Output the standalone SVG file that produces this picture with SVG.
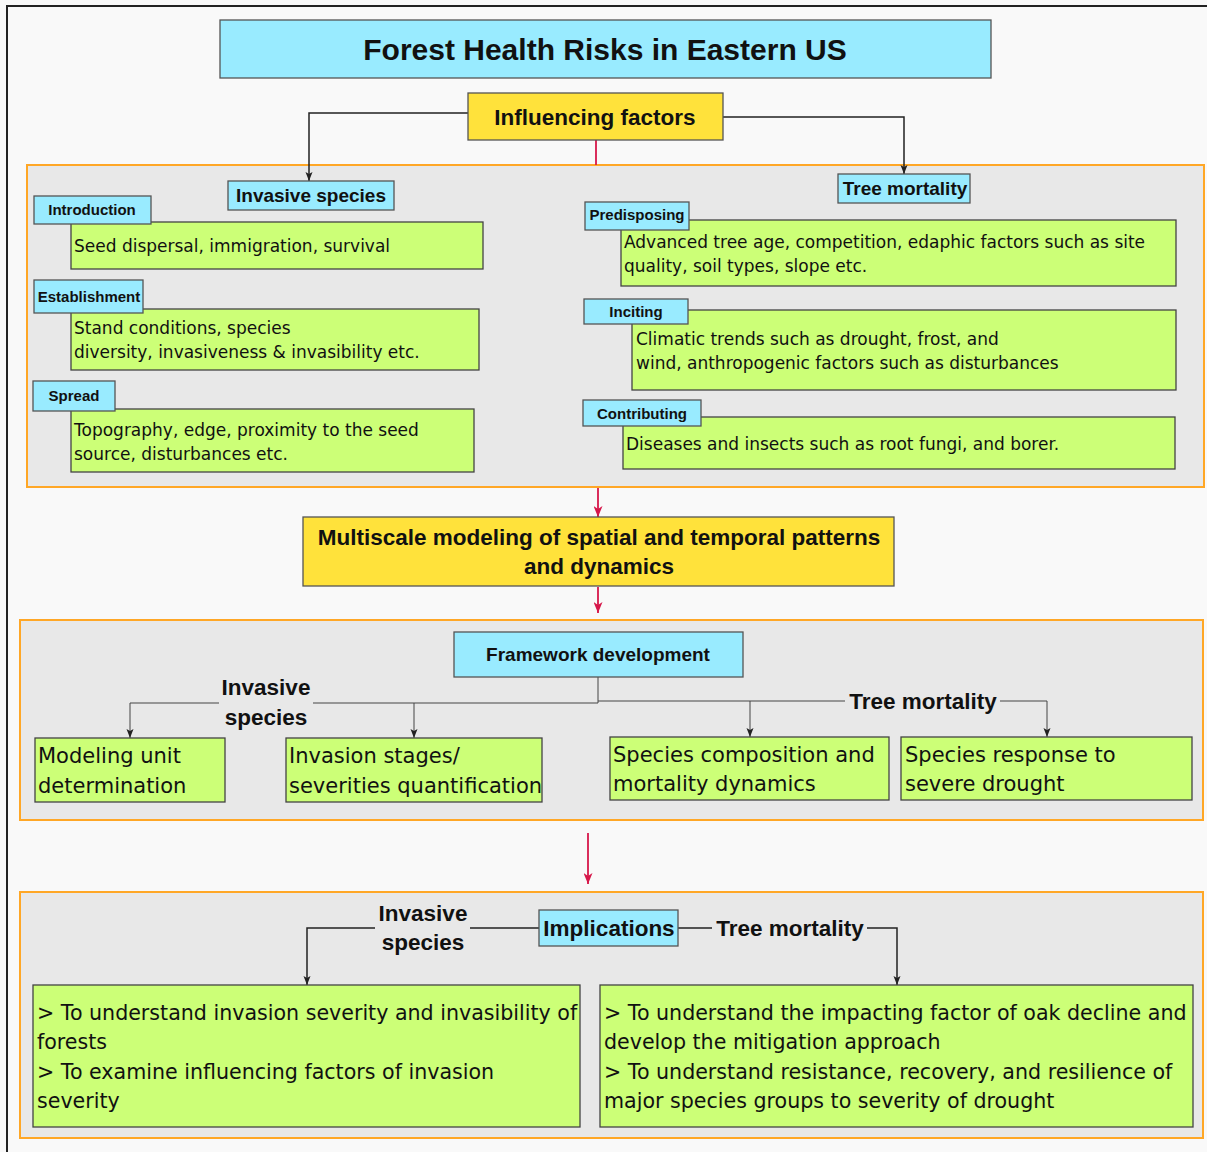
<svg xmlns="http://www.w3.org/2000/svg" width="1207" height="1152" viewBox="0 0 1207 1152">
<defs>
<style>
.bg{fill:#f9f9f9}
.frame{fill:none;stroke:#222;stroke-width:2}
.panel{fill:#e8e8e8;stroke:#ffa726;stroke-width:2}
.cyan{fill:#99ebff;stroke:#555;stroke-width:1.3}
.yellow{fill:#ffe23b;stroke:#555;stroke-width:1.3}
.green{fill:#ccff77;stroke:#444;stroke-width:1.3}
text{font-family:"DejaVu Sans","Liberation Sans",sans-serif;fill:#111}
.b{font-family:"Liberation Sans",Arial,sans-serif;font-weight:bold}
.c{text-anchor:middle}
.t17{font-size:17px}
.t21{font-size:21px}
.t20{font-size:20.6px}
.bl{font-size:22.5px}
.s15{font-size:15px}
.conn{fill:none;stroke:#222;stroke-width:1.5}
.thin{fill:none;stroke:#444;stroke-width:1}
.red{fill:none;stroke:#d6174a;stroke-width:1.8}
</style>
<marker id="ah" markerWidth="9" markerHeight="8" refX="9" refY="4" orient="auto" markerUnits="userSpaceOnUse" viewBox="0 0 9 8"><path d="M0,0.5 L9,4 L0,7.5 L2,4 Z" fill="#222"/></marker>
<marker id="ahr" markerWidth="11" markerHeight="9" refX="11" refY="4.5" orient="auto" markerUnits="userSpaceOnUse" viewBox="0 0 11 9"><path d="M0,0 L11,4.5 L0,9 L3,4.5 Z" fill="#d6174a"/></marker>
</defs>
<rect class="bg" x="0" y="0" width="1207" height="1152"/>
<path class="frame" d="M7,1152 V6 H1207"/>

<g id="panel1"><rect class="panel" x="27" y="165" width="1177" height="322"/></g>
<g id="panel2"><rect class="panel" x="20" y="620" width="1183" height="200"/></g>
<g id="panel3"><rect class="panel" x="20" y="892" width="1183" height="246"/></g>

<g id="connectors">
<path class="conn" d="M468,113 H309 V181" marker-end="url(#ah)"/>
<path class="conn" d="M723,117 H904 V174" marker-end="url(#ah)"/>
<path class="red" d="M596,140 V165"/>
<path class="red" d="M598,488 V517" marker-end="url(#ahr)"/>
<path class="red" d="M598,587 V613" marker-end="url(#ahr)"/>
<path class="red" d="M588,833 V884" marker-end="url(#ahr)"/>
<path class="thin" d="M598,677 V703"/>
<path class="thin" d="M598,703 H313 M219,703 H130 V738" marker-end="url(#ah)"/>
<path class="thin" d="M414,703 V738" marker-end="url(#ah)"/>
<path class="thin" d="M598,701 H845 M1000,701 H1047 V737" marker-end="url(#ah)"/>
<path class="thin" d="M750,701 V737" marker-end="url(#ah)"/>
<path class="conn" d="M539,928 H470 M375,928 H307 V985" marker-end="url(#ah)"/>
<path class="conn" d="M678,928 H712 M867,928 H897 V985" marker-end="url(#ah)"/>
</g>

<g id="title"><rect class="cyan" x="220" y="20" width="771" height="58"/><text class="b c" x="605" y="60" font-size="30">Forest Health Risks in Eastern US</text></g>
<g id="influencing"><rect class="yellow" x="468" y="93" width="255" height="47"/><text class="b c bl" x="595" y="125">Influencing factors</text></g>

<g id="invasive"><rect class="cyan" x="228" y="181" width="166" height="29"/><text class="b c" x="311" y="202" font-size="19">Invasive species</text></g>
<g id="treemort"><rect class="cyan" x="838" y="174" width="132" height="29"/><text class="b c" x="905" y="195" font-size="19">Tree mortality</text></g>

<g id="intro-text"><rect class="green" x="71" y="222" width="412" height="47"/><text class="t17" x="74" y="252">Seed dispersal, immigration, survival</text></g>
<g id="intro"><rect class="cyan" x="34" y="196" width="117" height="28"/><text class="b c s15" x="92" y="215">Introduction</text></g>

<g id="estab-text"><rect class="green" x="71" y="309" width="408" height="61"/><text class="t17" x="74" y="334">Stand conditions, species</text><text class="t17" x="74" y="358">diversity, invasiveness &amp; invasibility etc.</text></g>
<g id="estab"><rect class="cyan" x="34" y="280" width="109" height="33"/><text class="b c s15" x="89" y="302">Establishment</text></g>

<g id="spread-text"><rect class="green" x="71" y="409" width="403" height="63"/><text class="t17" x="74" y="436">Topography, edge, proximity to the seed</text><text class="t17" x="74" y="460">source, disturbances etc.</text></g>
<g id="spread"><rect class="cyan" x="33" y="381" width="82" height="30"/><text class="b c s15" x="74" y="401">Spread</text></g>

<g id="predis-text"><rect class="green" x="621" y="220" width="555" height="66"/><text class="t17" x="624" y="248">Advanced tree age, competition, edaphic factors such as site</text><text class="t17" x="624" y="272">quality, soil types, slope etc.</text></g>
<g id="predis"><rect class="cyan" x="585" y="202" width="104" height="28"/><text class="b c s15" x="637" y="220">Predisposing</text></g>

<g id="incit-text"><rect class="green" x="632" y="310" width="544" height="80"/><text class="t17" x="636" y="345">Climatic trends such as drought, frost, and</text><text class="t17" x="636" y="369">wind, anthropogenic factors such as disturbances</text></g>
<g id="incit"><rect class="cyan" x="584" y="299" width="104" height="25"/><text class="b c s15" x="636" y="317">Inciting</text></g>

<g id="contrib-text"><rect class="green" x="623" y="417" width="552" height="52"/><text class="t17" x="626" y="450">Diseases and insects such as root fungi, and borer.</text></g>
<g id="contrib"><rect class="cyan" x="583" y="400" width="118" height="26"/><text class="b c s15" x="642" y="419">Contributing</text></g>

<g id="multiscale"><rect class="yellow" x="303" y="517" width="591" height="69"/><text class="b c bl" x="599" y="545">Multiscale modeling of spatial and temporal patterns</text><text class="b c bl" x="599" y="574">and dynamics</text></g>

<g id="framework"><rect class="cyan" x="454" y="632" width="289" height="45"/><text class="b c" x="598" y="661" font-size="19">Framework development</text></g>
<g id="lbl-inv1"><text class="b c bl" x="266" y="695">Invasive</text><text class="b c bl" x="266" y="725">species</text></g>
<g id="lbl-tm1"><text class="b c bl" x="923" y="709">Tree mortality</text></g>

<g id="modeling"><rect class="green" x="35" y="738" width="190" height="64"/><text class="t21" x="38" y="763">Modeling unit</text><text class="t21" x="38" y="793">determination</text></g>
<g id="invstages"><rect class="green" x="286" y="738" width="256" height="64"/><text class="t21" x="289" y="763">Invasion stages/</text><text class="t21" x="289" y="793">severities quantification</text></g>
<g id="speccomp"><rect class="green" x="610" y="737" width="279" height="63"/><text class="t21" x="613" y="762">Species composition and</text><text class="t21" x="613" y="791">mortality dynamics</text></g>
<g id="specresp"><rect class="green" x="901" y="737" width="291" height="63"/><text class="t21" x="905" y="762">Species response to</text><text class="t21" x="905" y="791">severe drought</text></g>

<g id="implications"><rect class="cyan" x="539" y="910" width="139" height="36"/><text class="b c bl" x="609" y="936">Implications</text></g>
<g id="lbl-inv2"><text class="b c bl" x="423" y="921">Invasive</text><text class="b c bl" x="423" y="950">species</text></g>
<g id="lbl-tm2"><text class="b c bl" x="790" y="936">Tree mortality</text></g>

<g id="impl-left"><rect class="green" x="33" y="985" width="547" height="142"/>
<text class="t20" x="37" y="1020">&gt; To understand invasion severity and invasibility of</text>
<text class="t20" x="37" y="1049">forests</text>
<text class="t20" x="37" y="1079">&gt; To examine influencing factors of invasion</text>
<text class="t20" x="37" y="1108">severity</text></g>
<g id="impl-right"><rect class="green" x="600" y="985" width="593" height="142"/>
<text class="t20" x="604" y="1020">&gt; To understand the impacting factor of oak decline and</text>
<text class="t20" x="604" y="1049">develop the mitigation approach</text>
<text class="t20" x="604" y="1079">&gt; To understand resistance, recovery, and resilience of</text>
<text class="t20" x="604" y="1108">major species groups to severity of drought</text></g>
</svg>
